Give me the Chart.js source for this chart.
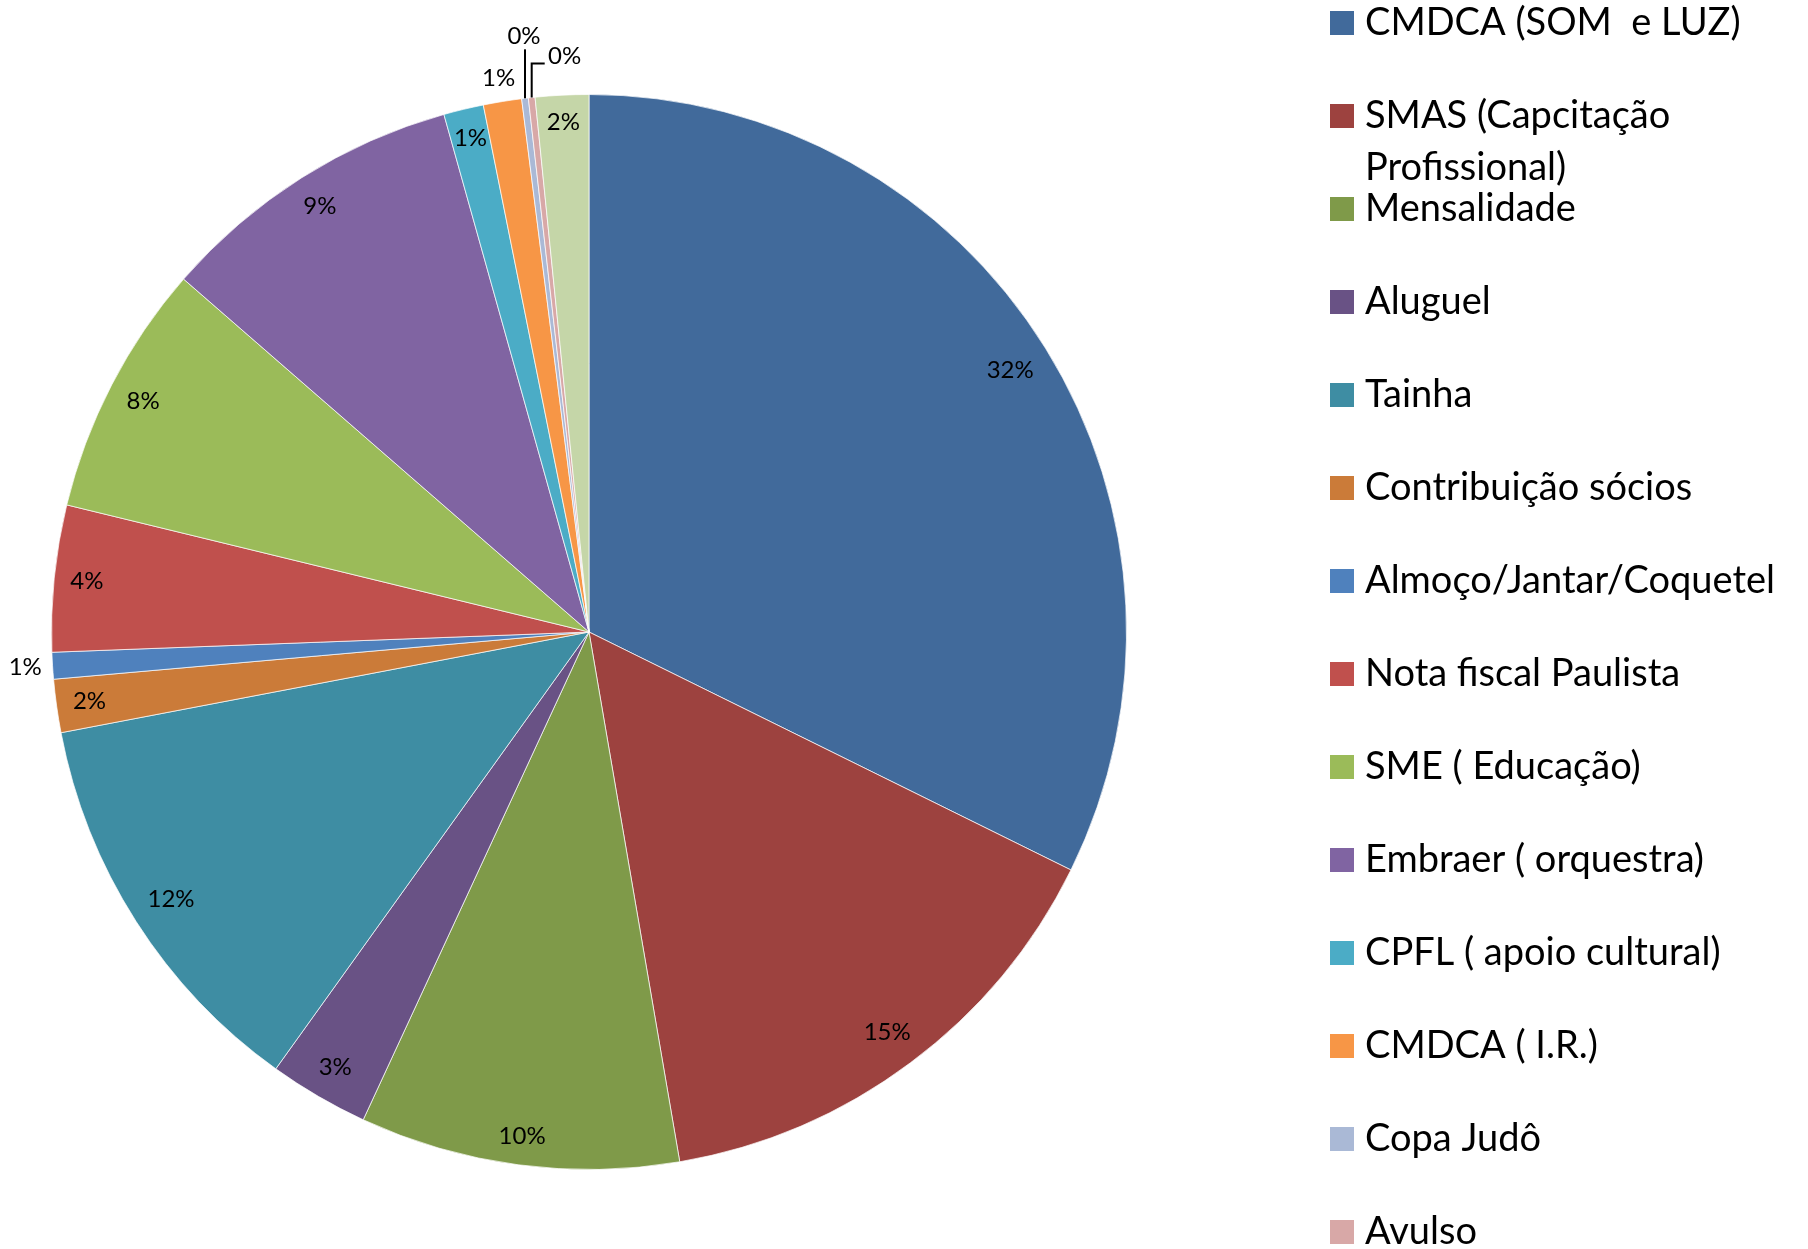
<!DOCTYPE html>
<html>
<head>
<meta charset="utf-8">
<title>Receitas</title>
<script src="https://cdn.jsdelivr.net/npm/chart.js@4.4.0/dist/chart.umd.min.js"></script>
<style>
  html, body { margin: 0; padding: 0; background: #fff; overflow: hidden; }
  #wrap { position: relative; width: 1808px; height: 1249px; }
</style>
</head>
<body>
<div id="wrap"><canvas id="grafico" width="1808" height="1249"></canvas></div>
<script>
var categorias = [
  'CMDCA (SOM  e LUZ)',
  'SMAS (Capcitação Profissional)',
  'Mensalidade',
  'Aluguel',
  'Tainha',
  'Contribuição sócios',
  'Almoço/Jantar/Coquetel',
  'Nota fiscal Paulista',
  'SME ( Educação)',
  'Embraer ( orquestra)',
  'CPFL ( apoio cultural)',
  'CMDCA ( I.R.)',
  'Copa Judô',
  'Avulso',
  'Outros'
];
var valores = [32.3, 15.0, 9.6, 3.0, 12.1, 1.6, 0.8, 4.4, 7.6, 9.25, 1.2, 1.15, 0.2, 0.2, 1.6];
var cores = [
  '#416a9b', '#9d423f', '#7f9a49', '#695285', '#3e8da3', '#cb7b39',
  '#4f81bd', '#c0504d', '#9bbb59', '#8064a2', '#4bacc6', '#f79646',
  '#aab9d6', '#d8a8a7', '#c5d6a8'
];

// porcentagens sobre as fatias (fora nas pequenas, com linha guia nas de 0%)
var rotulosPie = {
  id: 'rotulosPie',
  afterDatasetsDraw: function (chart) {
    var ctx = chart.ctx;
    var meta = chart.getDatasetMeta(0);
    var total = valores.reduce(function (a, b) { return a + b; }, 0);
    var pequenos = 0;
    ctx.save();
    ctx.font = '24px Lato';
    ctx.fillStyle = '#000';
    ctx.strokeStyle = '#000';
    ctx.lineWidth = 2;
    ctx.textAlign = 'center';
    ctx.textBaseline = 'middle';
    meta.data.forEach(function (arc, i) {
      var p = arc.getProps(['x', 'y', 'startAngle', 'endAngle', 'outerRadius'], true);
      var meio = (p.startAngle + p.endAngle) / 2;
      var pct = valores[i] / total * 100;
      var texto = Math.round(pct) + '%';
      var c = Math.cos(meio), s = Math.sin(meio);
      if (pct < 0.5) {
        var bx = p.x + c * p.outerRadius, by = p.y + s * p.outerRadius;
        ctx.beginPath();
        ctx.moveTo(bx, by);
        if (pequenos === 0) {
          ctx.lineTo(bx, by - 49);
          ctx.stroke();
          ctx.fillText(texto, bx - 1, by - 62);
        } else {
          ctx.lineTo(bx, by - 34);
          ctx.lineTo(bx + 13, by - 34);
          ctx.stroke();
          ctx.fillText(texto, bx + 33, by - 41);
        }
        pequenos++;
        return;
      }
      // caixa do texto encostada na borda, por dentro ou por fora
      var w = ctx.measureText(texto).width + 4, h = 26;
      var ext = Math.abs(c) * w / 2 + Math.abs(s) * h / 2;
      var d = pct < 1.18 ? p.outerRadius + 8 + ext : p.outerRadius - 13 - ext;
      ctx.fillText(texto, p.x + c * d, p.y + s * d);
    });
    ctx.restore();
  }
};

// legenda à direita, um item a cada 93px
var legendaLateral = {
  id: 'legendaLateral',
  afterDraw: function (chart) {
    var ctx = chart.ctx;
    var x0 = 1330, xt = 1365, passo = 93, largura = 430;
    ctx.save();
    ctx.font = '38px Lato';
    ctx.textAlign = 'left';
    ctx.textBaseline = 'alphabetic';
    categorias.forEach(function (nome, i) {
      var topo = 11 + passo * i;
      ctx.fillStyle = cores[i];
      ctx.fillRect(x0, topo, 24, 24);
      ctx.fillStyle = '#000';
      // quebra simples por palavras
      var palavras = nome.split(' ');
      var linhas = [], atual = '';
      palavras.forEach(function (w) {
        var teste = atual ? atual + ' ' + w : w;
        if (atual && ctx.measureText(teste).width > largura) {
          linhas.push(atual);
          atual = w;
        } else {
          atual = teste;
        }
      });
      linhas.push(atual);
      linhas.forEach(function (l, k) {
        ctx.fillText(l, xt, topo + 24 + k * 52);
      });
    });
    ctx.restore();
  }
};

function desenhar() {
  new Chart(document.getElementById('grafico'), {
    type: 'pie',
    data: {
      labels: categorias,
      datasets: [{
        data: valores,
        backgroundColor: cores,
        borderColor: 'rgba(255,255,255,0.7)',
        borderWidth: 1
      }]
    },
    options: {
      responsive: false,
      animation: false,
      layout: { padding: { left: 51, right: 681, top: 94, bottom: 79 } },
      plugins: {
        legend: { display: false },
        tooltip: { enabled: false }
      }
    },
    plugins: [rotulosPie, legendaLateral]
  });
}

Promise.all([document.fonts.load('24px Lato'), document.fonts.load('38px Lato')])
  .then(desenhar, desenhar);
</script>
</body>
</html>
